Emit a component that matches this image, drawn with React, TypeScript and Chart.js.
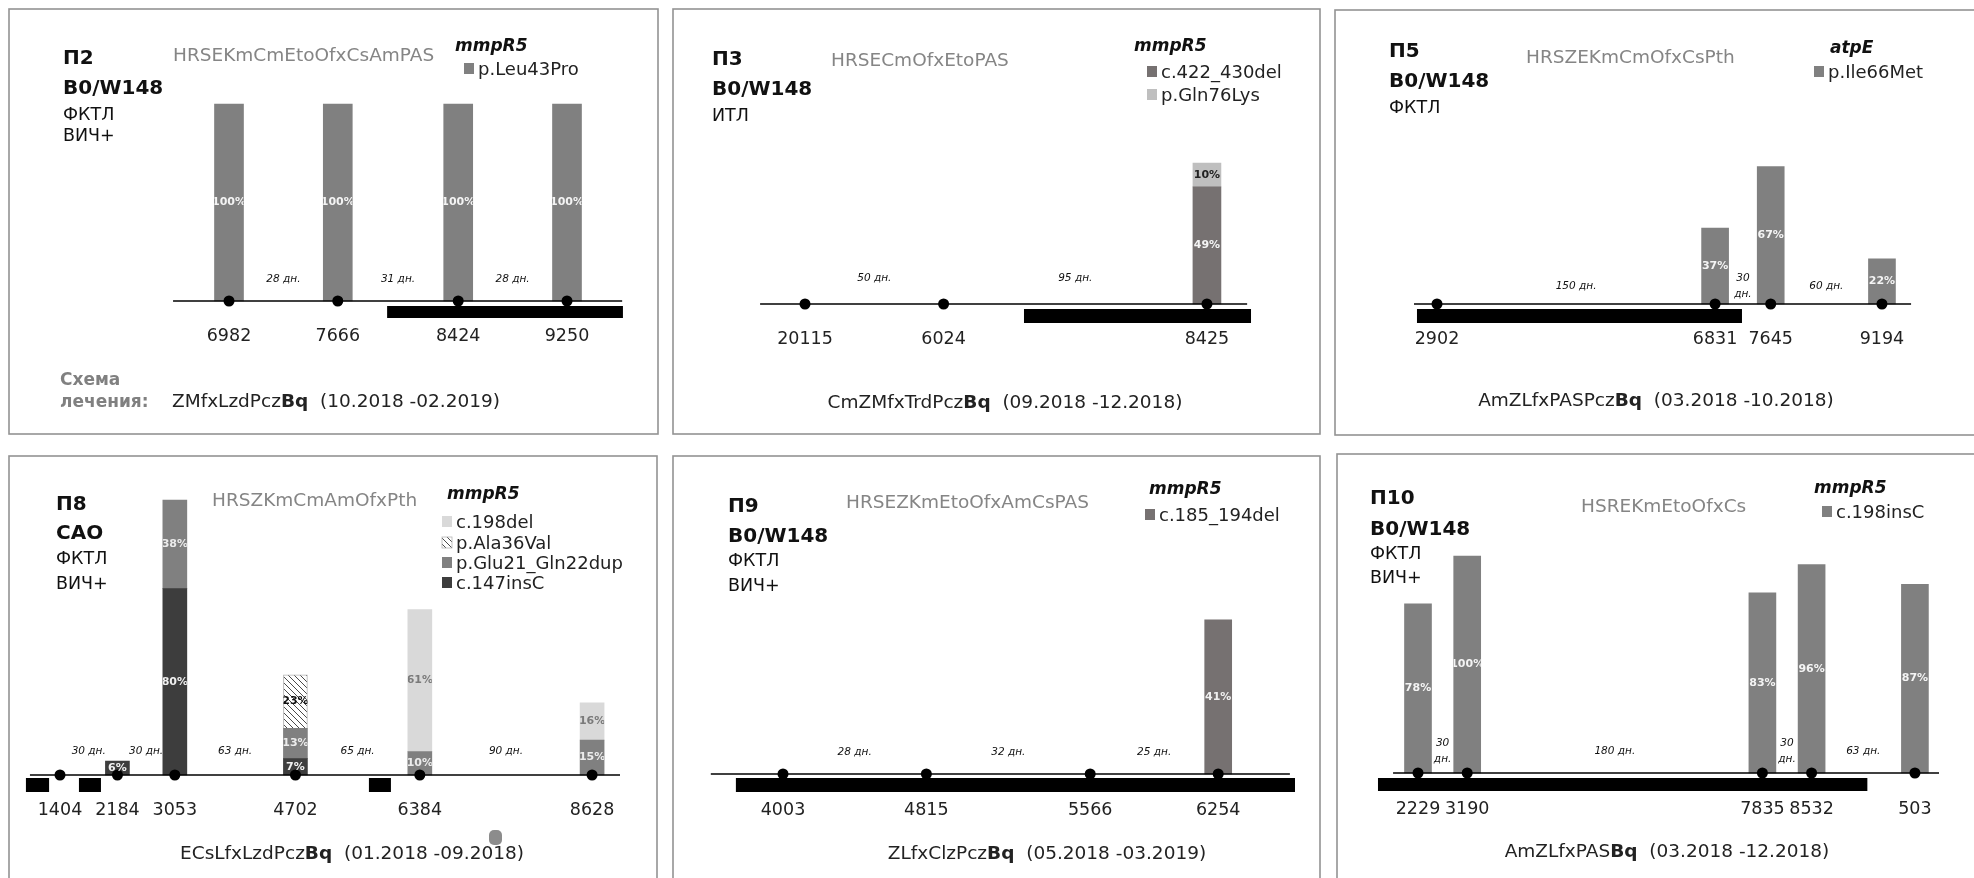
import React, { useEffect, useRef } from "react";
import { Chart, registerables } from "chart.js";

Chart.register(...registerables);

const FONT = "'DejaVu Sans', Verdana, sans-serif";

// ---------- П2 ----------
const p2Samples = ["6982", "7666", "8424", "9250"];
const p2Days = [0, 28, 59, 87];
const p2Gaps = ["28 дн.", "31 дн.", "28 дн."];
const p2Leu43Pro = [100, 100, 100, 100];
const p2Timeline = [-14.4, 101.2];
const p2Therapy = [[40.7, 101.4]];

// ---------- П3 ----------
const p3Samples = ["20115", "6024", "8425"];
const p3Days = [0, 50, 145];
const p3Gaps = ["50 дн.", "95 дн."];
const p3Del422 = [null, null, 49];
const p3Gln76Lys = [null, null, 10];
const p3Timeline = [-16.2, 159.5];
const p3Therapy = [[79, 160.9]];

// ---------- П5 ----------
const p5Samples = ["2902", "6831", "7645", "9194"];
const p5Days = [0, 150, 180, 240];
const p5Gaps = ["150 дн.", "30\nдн.", "60 дн."];
const p5Ile66Met = [null, 37, 67, 22];
const p5Timeline = [-12.4, 255.7];
const p5Therapy = [[-10.8, 164.5]];

// ---------- П8 ----------
const p8Samples = ["1404", "2184", "3053", "4702", "6384", "8628"];
const p8Days = [0, 30, 60, 123, 188, 278];
const p8Gaps = ["30 дн.", "30 дн.", "63 дн.", "65 дн.", "90 дн."];
const p8Ins147C = [null, 6, 80, 7, null, null];
const p8Glu21dup = [null, null, 38, 13, 10, 15];
const p8Ala36Val = [null, null, null, 23, null, null];
const p8Del198 = [null, null, null, null, 61, 16];
const p8Timeline = [-15.7, 292.6];
const p8Therapy = [[-17.8, -5.7], [9.9, 21.4], [161.4, 172.9]];

// ---------- П9 ----------
const p9Samples = ["4003", "4815", "5566", "6254"];
const p9Days = [0, 28, 60, 85];
const p9Gaps = ["28 дн.", "32 дн.", "25 дн."];
const p9Del185 = [null, null, null, 41];
const p9Timeline = [-14.1, 99];
const p9Therapy = [[-9.2, 100]];

// ---------- П10 ----------
const p10Samples = ["2229", "3190", "7835", "8532", "503"];
const p10Days = [0, 30, 210, 240, 303];
const p10Gaps = ["30\nдн.", "180 дн.", "30\nдн.", "63 дн."];
const p10Ins198C = [78, 100, 83, 96, 87];
const p10Timeline = [-15.2, 317.7];
const p10Therapy = [[-24.4, 274]];

type Series = { label: string; values: (number | null)[]; fill: string; text: string; hatch?: boolean };

type Layout = {
  box: number[];
  day0: number;
  pxPerDay: number;
  base: number;
  pxPerPct: number;
  xRange: number[];
  barWidth: number;
  therapyDrop: number;
  therapyWidth: number;
  gapLift: number;
  sampleDrop: number;
};

type Head = {
  lines: string[];
  x: number;
  ys: number[];
  code: string;
  codeX: number;
  codeY: number;
  gene: string;
  geneX: number;
  geneY: number;
  legX: number;
  legYs: number[];
  legend: number[];
  scheme: string[];
  schemeX: number;
  schemeY: number;
  schemeAnchor: "start" | "middle";
};

type Panel = {
  samples: string[];
  days: number[];
  gaps: string[];
  series: Series[];
  timeline: number[];
  therapy: number[][];
  layout: Layout;
  head: Head;
};

const PANELS: Panel[] = [
  {
    samples: p2Samples, days: p2Days, gaps: p2Gaps, timeline: p2Timeline, therapy: p2Therapy,
    series: [{ label: "p.Leu43Pro", values: p2Leu43Pro, fill: "#808080", text: "#f4f4f4" }],
    layout: { box: [9, 9, 649, 425], day0: 229, pxPerDay: 3.885, base: 301, pxPerPct: 1.97, xRange: [-18, 104], barWidth: 29, therapyDrop: 11, therapyWidth: 12, gapLift: 22, sampleDrop: 35 },
    head: {
      lines: ["П2", "B0/W148", "ФКТЛ", "ВИЧ+"], x: 63, ys: [64, 94, 120, 141],
      code: "HRSEKmCmEtoOfxCsAmPAS", codeX: 173, codeY: 61,
      gene: "mmpR5", geneX: 455, geneY: 51,
      legX: 464, legYs: [75], legend: [0],
      scheme: ["ZMfxLzdPcz", "Bq", "  (10.2018 -02.2019)"], schemeX: 172, schemeY: 407, schemeAnchor: "start",
    },
  },
  {
    samples: p3Samples, days: p3Days, gaps: p3Gaps, timeline: p3Timeline, therapy: p3Therapy,
    series: [
      { label: "c.422_430del", values: p3Del422, fill: "#767171", text: "#f4f4f4" },
      { label: "p.Gln76Lys", values: p3Gln76Lys, fill: "#bfbfbf", text: "#222222" },
    ],
    layout: { box: [673, 9, 647, 425], day0: 805, pxPerDay: 2.772, base: 304, pxPerPct: 2.39, xRange: [-18, 163], barWidth: 28, therapyDrop: 12, therapyWidth: 14, gapLift: 26, sampleDrop: 35 },
    head: {
      lines: ["П3", "B0/W148", "ИТЛ"], x: 712, ys: [65, 95, 121],
      code: "HRSECmOfxEtoPAS", codeX: 831, codeY: 66,
      gene: "mmpR5", geneX: 1134, geneY: 51,
      legX: 1147, legYs: [78, 101], legend: [0, 1],
      scheme: ["CmZMfxTrdPcz", "Bq", "  (09.2018 -12.2018)"], schemeX: 1005, schemeY: 408, schemeAnchor: "middle",
    },
  },
  {
    samples: p5Samples, days: p5Days, gaps: p5Gaps, timeline: p5Timeline, therapy: p5Therapy,
    series: [{ label: "p.Ile66Met", values: p5Ile66Met, fill: "#808080", text: "#f4f4f4" }],
    layout: { box: [1335, 10, 660, 425], day0: 1437, pxPerDay: 1.854, base: 304, pxPerPct: 2.05, xRange: [-14, 260], barWidth: 27, therapyDrop: 12, therapyWidth: 14, gapLift: 18, sampleDrop: 35 },
    head: {
      lines: ["П5", "B0/W148", "ФКТЛ"], x: 1389, ys: [57, 87, 113],
      code: "HRSZEKmCmOfxCsPth", codeX: 1526, codeY: 63,
      gene: "atpE", geneX: 1830, geneY: 53,
      legX: 1814, legYs: [78], legend: [0],
      scheme: ["AmZLfxPASPcz", "Bq", "  (03.2018 -10.2018)"], schemeX: 1656, schemeY: 406, schemeAnchor: "middle",
    },
  },
  {
    samples: p8Samples, days: p8Days, gaps: p8Gaps, timeline: p8Timeline, therapy: p8Therapy,
    series: [
      { label: "c.147insC", values: p8Ins147C, fill: "#3d3d3d", text: "#f0f0f0" },
      { label: "p.Glu21_Gln22dup", values: p8Glu21dup, fill: "#808080", text: "#ececec" },
      { label: "p.Ala36Val", values: p8Ala36Val, fill: "#ffffff", text: "#111111", hatch: true },
      { label: "c.198del", values: p8Del198, fill: "#d9d9d9", text: "#7a7a7a" },
    ],
    layout: { box: [9, 456, 648, 430], day0: 60, pxPerDay: 1.914, base: 775, pxPerPct: 2.33, xRange: [-19, 296], barWidth: 24, therapyDrop: 10, therapyWidth: 14, gapLift: 24, sampleDrop: 35 },
    head: {
      lines: ["П8", "САО", "ФКТЛ", "ВИЧ+"], x: 56, ys: [510, 539, 564, 589],
      code: "HRSZKmCmAmOfxPth", codeX: 212, codeY: 506,
      gene: "mmpR5", geneX: 447, geneY: 499,
      legX: 442, legYs: [528, 549, 569, 589], legend: [3, 2, 1, 0],
      scheme: ["ECsLfxLzdPcz", "Bq", "  (01.2018 -09.2018)"], schemeX: 352, schemeY: 859, schemeAnchor: "middle",
    },
  },
  {
    samples: p9Samples, days: p9Days, gaps: p9Gaps, timeline: p9Timeline, therapy: p9Therapy,
    series: [{ label: "c.185_194del", values: p9Del185, fill: "#767171", text: "#f0f0f0" }],
    layout: { box: [673, 456, 647, 430], day0: 783, pxPerDay: 5.12, base: 774, pxPerPct: 3.76, xRange: [-15, 101], barWidth: 27, therapyDrop: 11, therapyWidth: 14, gapLift: 22, sampleDrop: 36 },
    head: {
      lines: ["П9", "B0/W148", "ФКТЛ", "ВИЧ+"], x: 728, ys: [512, 542, 566, 591],
      code: "HRSEZKmEtoOfxAmCsPAS", codeX: 846, codeY: 508,
      gene: "mmpR5", geneX: 1149, geneY: 494,
      legX: 1145, legYs: [521], legend: [0],
      scheme: ["ZLfxClzPcz", "Bq", "  (05.2018 -03.2019)"], schemeX: 1047, schemeY: 859, schemeAnchor: "middle",
    },
  },
  {
    samples: p10Samples, days: p10Days, gaps: p10Gaps, timeline: p10Timeline, therapy: p10Therapy,
    series: [{ label: "c.198insC", values: p10Ins198C, fill: "#808080", text: "#f4f4f4" }],
    layout: { box: [1337, 454, 660, 430], day0: 1418, pxPerDay: 1.64, base: 773, pxPerPct: 2.17, xRange: [-27, 320], barWidth: 27, therapyDrop: 11.5, therapyWidth: 13, gapLift: 22, sampleDrop: 36 },
    head: {
      lines: ["П10", "B0/W148", "ФКТЛ", "ВИЧ+"], x: 1370, ys: [504, 535, 559, 583],
      code: "HSREKmEtoOfxCs", codeX: 1581, codeY: 512,
      gene: "mmpR5", geneX: 1814, geneY: 493,
      legX: 1822, legYs: [518], legend: [0],
      scheme: ["AmZLfxPAS", "Bq", "  (03.2018 -12.2018)"], schemeX: 1667, schemeY: 857, schemeAnchor: "middle",
    },
  },
];

function makeHatch(): CanvasPattern | string {
  const c = document.createElement("canvas");
  c.width = 6;
  c.height = 6;
  const g = c.getContext("2d");
  if (!g) return "#ffffff";
  g.fillStyle = "#ffffff";
  g.fillRect(0, 0, 6, 6);
  g.strokeStyle = "#4a4a4a";
  g.lineWidth = 1;
  g.beginPath();
  g.moveTo(0, 0); g.lineTo(6, 6);
  g.moveTo(-3, 3); g.lineTo(3, 9);
  g.moveTo(3, -3); g.lineTo(9, 3);
  g.stroke();
  return g.createPattern(c, "repeat") || "#ffffff";
}

function buildConfig(p: Panel): any {
  const L = p.layout;
  const [bl, bt, bw, bh] = L.box;
  const k = L.pxPerPct;
  const baseRel = L.base - bt;
  const left = L.day0 + L.xRange[0] * L.pxPerDay - bl;
  const right = L.day0 + L.xRange[1] * L.pxPerDay - bl;
  const top = 12;
  const bottom = bh - 12;
  const yMax = (baseRel - top) / k;
  const yMin = -(bottom - baseRel) / k;
  const therapyY = -L.therapyDrop / k;
  const hatch = makeHatch();

  const datasets: any[] = [];
  // sampling points on the timeline
  datasets.push({
    type: "line",
    data: p.days.map((d) => ({ x: d, y: 0 })),
    showLine: false,
    pointRadius: 5.5,
    pointHoverRadius: 5.5,
    pointBackgroundColor: "#000000",
    pointBorderColor: "#000000",
    pointBorderWidth: 0,
    borderColor: "#000000",
    order: 0,
    stack: "dots",
  });
  // timeline axis
  datasets.push({
    type: "line",
    data: p.timeline.map((d) => ({ x: d, y: 0 })),
    borderColor: "#000000",
    borderWidth: 1.6,
    pointRadius: 0,
    order: 1,
    stack: "timeline",
  });
  // treatment periods
  p.therapy.forEach(([a, b], i) => {
    datasets.push({
      type: "line",
      data: [{ x: a, y: therapyY }, { x: b, y: therapyY }],
      borderColor: "#000000",
      borderWidth: L.therapyWidth,
      borderCapStyle: "butt",
      pointRadius: 0,
      order: 2,
      stack: "therapy" + i,
    });
  });
  // variant frequencies
  p.series.forEach((s, j) => {
    const pts: any[] = [];
    p.days.forEach((d, i) => {
      const v = s.values[i];
      if (v !== null && v !== undefined) pts.push({ x: d, y: v });
    });
    datasets.push({
      type: "bar",
      label: s.label,
      data: pts,
      backgroundColor: s.hatch ? hatch : s.fill,
      borderColor: s.hatch ? "#b5b5b5" : s.fill,
      borderWidth: s.hatch ? 1 : 0,
      barThickness: L.barWidth,
      grouped: false,
      stack: "bars",
      order: 3 + j,
      labelColor: s.text,
    });
  });

  const marks = {
    id: "marks",
    afterDatasetsDraw(chart: any) {
      const ctx = chart.ctx;
      const xs = chart.scales.x;
      const ys = chart.scales.y;
      const y0 = ys.getPixelForValue(0);
      // percent labels inside the bars
      chart.data.datasets.forEach((ds: any, di: number) => {
        if (ds.type !== "bar") return;
        const meta = chart.getDatasetMeta(di);
        meta.data.forEach((el: any, i: number) => {
          const { x, y, base, width } = el.getProps(["x", "y", "base", "width"], true);
          const v = ds.data[i].y;
          ctx.save();
          ctx.beginPath();
          ctx.rect(x - width / 2, Math.min(y, base), width, Math.abs(base - y));
          ctx.clip();
          ctx.font = `bold 11px ${FONT}`;
          ctx.fillStyle = ds.labelColor;
          ctx.textAlign = "center";
          ctx.textBaseline = "middle";
          ctx.fillText(`${v}%`, x, (y + base) / 2);
          ctx.restore();
        });
      });
      // intervals between samplings
      ctx.save();
      ctx.font = `italic 10.5px ${FONT}`;
      ctx.fillStyle = "#111111";
      ctx.textAlign = "center";
      ctx.textBaseline = "middle";
      p.gaps.forEach((g, i) => {
        const xm = xs.getPixelForValue((p.days[i] + p.days[i + 1]) / 2);
        const lines = g.split("\n");
        lines.forEach((ln, li) => {
          const dy = (li - (lines.length - 1) / 2) * 16;
          ctx.fillText(ln, xm, y0 - L.gapLift + dy);
        });
      });
      ctx.restore();
      // sample numbers
      ctx.save();
      ctx.font = `17.5px ${FONT}`;
      ctx.fillStyle = "#222222";
      ctx.textAlign = "center";
      ctx.textBaseline = "middle";
      p.samples.forEach((s, i) => {
        ctx.fillText(s, xs.getPixelForValue(p.days[i]), y0 + L.sampleDrop);
      });
      ctx.restore();
    },
  };

  return {
    type: "bar",
    data: { datasets },
    options: {
      animation: false,
      responsive: false,
      devicePixelRatio: 1,
      events: [],
      layout: { padding: { left, right: bw - right, top, bottom: bh - bottom } },
      plugins: { legend: { display: false }, tooltip: { enabled: false }, title: { display: false } },
      scales: {
        x: { type: "linear", min: L.xRange[0], max: L.xRange[1], offset: false, display: false, stacked: true },
        y: { type: "linear", min: yMin, max: yMax, display: false, stacked: true },
      },
    },
    plugins: [marks],
  };
}

function PanelChart({ panel }: { panel: Panel }) {
  const ref = useRef<HTMLCanvasElement | null>(null);
  const [bl, bt, bw, bh] = panel.layout.box;
  useEffect(() => {
    if (!ref.current) return;
    const chart = new Chart(ref.current, buildConfig(panel));
    return () => chart.destroy();
  }, [panel]);
  return (
    <canvas
      ref={ref}
      width={bw}
      height={bh}
      style={{ position: "absolute", left: bl, top: bt, width: bw, height: bh }}
    />
  );
}

function PanelText({ panel }: { panel: Panel }) {
  const h = panel.head;
  const [bl, bt, bw, bh] = panel.layout.box;
  return (
    <g>
      <rect x={bl} y={bt} width={bw} height={bh} fill="none" stroke="#939393" strokeWidth={1.6} />
      {h.lines.map((t, i) => (
        <text key={i} x={h.x} y={h.ys[i]} fontSize={i < 2 ? 20 : 17.5} fontWeight={i < 2 ? "bold" : "normal"} fill="#111">
          {t}
        </text>
      ))}
      <text x={h.codeX} y={h.codeY} fontSize={18.5} fill="#858585">{h.code}</text>
      <text x={h.geneX} y={h.geneY} fontSize={17} fontWeight="bold" fontStyle="italic" fill="#111">{h.gene}</text>
      {h.legend.map((si, i) => {
        const s = panel.series[si];
        return (
          <g key={i}>
            <rect x={h.legX} y={h.legYs[i] - 12} width={10} height={11} fill={s.hatch ? "url(#hatch)" : s.fill} stroke={s.hatch ? "#b5b5b5" : "none"} strokeWidth={0.8} />
            <text x={h.legX + 14} y={h.legYs[i]} fontSize={18} fill="#222">{s.label}</text>
          </g>
        );
      })}
      <text x={h.schemeX} y={h.schemeY} fontSize={18.5} fill="#222" textAnchor={h.schemeAnchor} style={{ whiteSpace: "pre" }}>
        {h.scheme[0]}
        <tspan fontWeight="bold">{h.scheme[1]}</tspan>
        {h.scheme[2]}
      </text>
    </g>
  );
}

export default function App() {
  return (
    <div style={{ position: "fixed", left: 0, top: 0, width: 1974, height: 878, overflow: "hidden", background: "#ffffff" }}>
      {PANELS.map((p, i) => (
        <PanelChart key={i} panel={p} />
      ))}
      <svg width={1974} height={878} style={{ position: "absolute", left: 0, top: 0, pointerEvents: "none" }} fontFamily={FONT}>
        <defs>
          <pattern id="hatch" width="6" height="6" patternUnits="userSpaceOnUse">
            <rect width="6" height="6" fill="#fff" />
            <path d="M0,0 L6,6 M-3,3 L3,9 M3,-3 L9,3" stroke="#4a4a4a" strokeWidth="1" />
          </pattern>
        </defs>
        {PANELS.map((p, i) => (
          <PanelText key={i} panel={p} />
        ))}
        {/* regimen caption of П2 */}
        <text x={60} y={385} fontSize={17} fontWeight="bold" fill="#808080">Схема</text>
        <text x={60} y={407} fontSize={17} fontWeight="bold" fill="#808080">лечения:</text>
        {/* stray marker near the П8 caption */}
        <rect x={489} y={830} width={13} height={15} rx={5} fill="#8c8c8c" />
      </svg>
    </div>
  );
}
